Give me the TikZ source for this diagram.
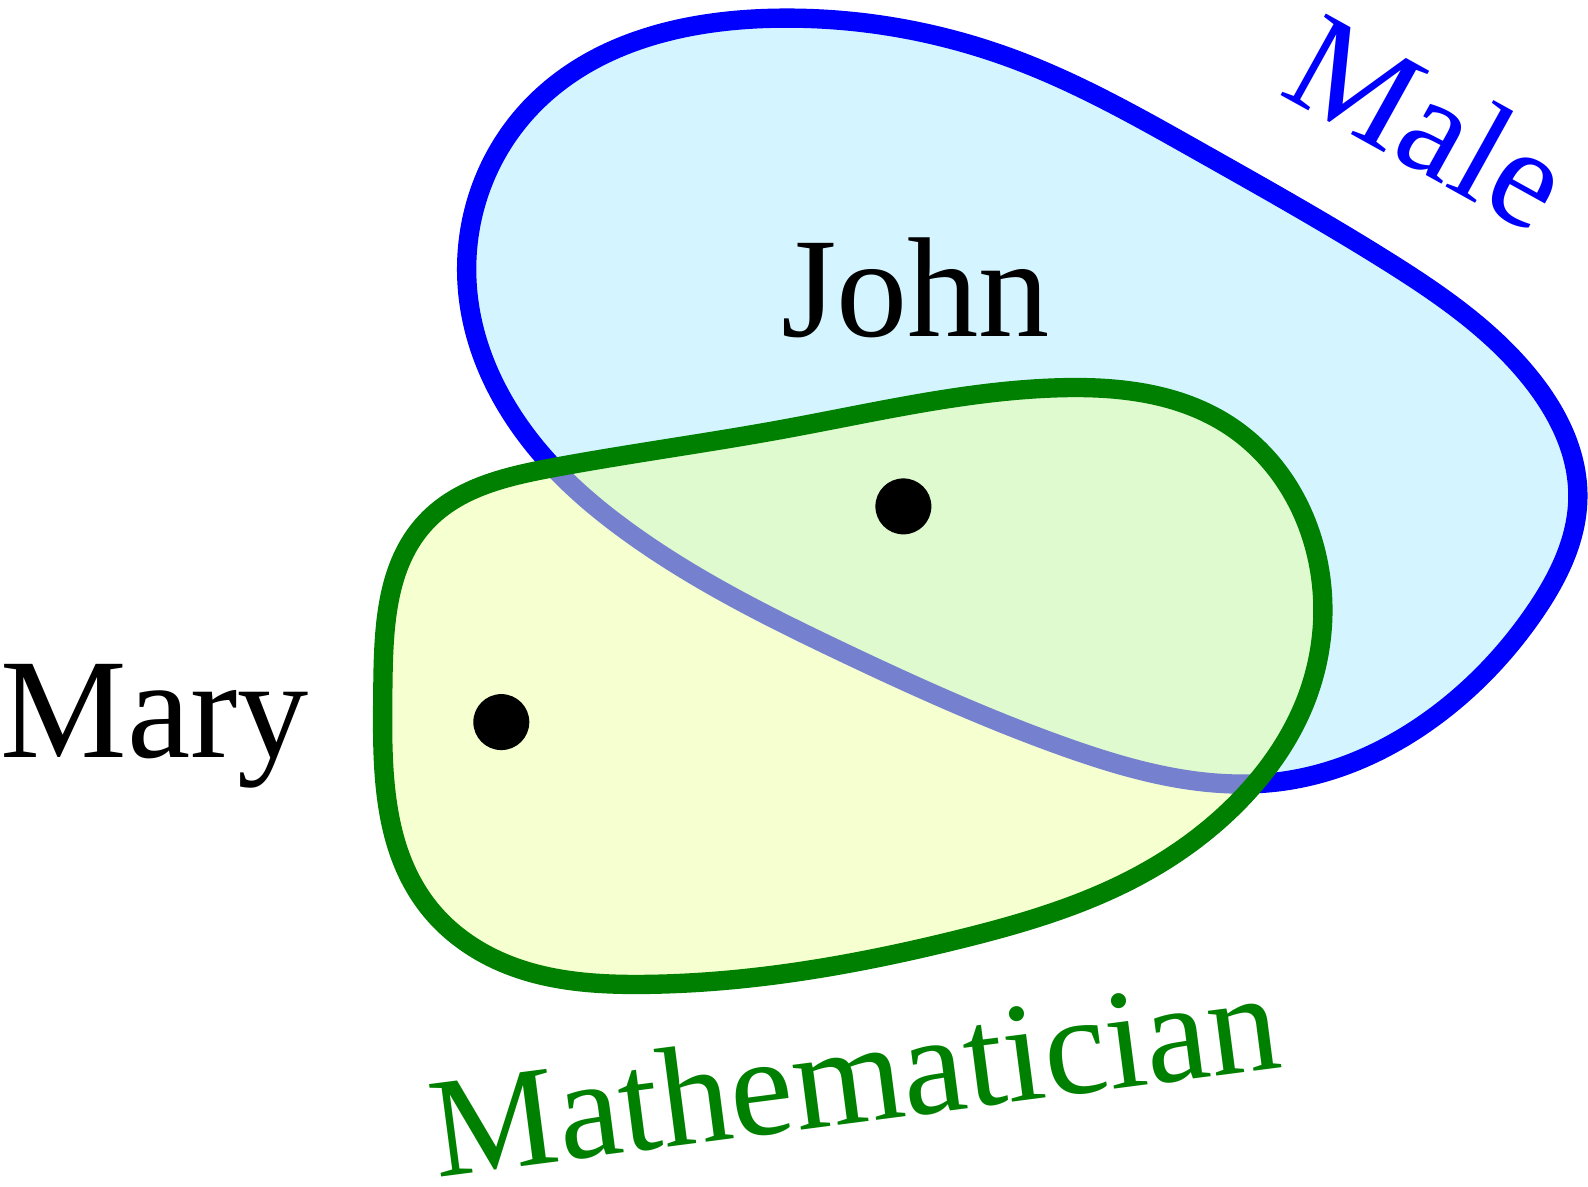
\documentclass[tikz,border=0pt]{standalone}
\usepackage{fontspec}
\setmainfont{Liberation Serif}
\usepackage{xcolor}
\usepackage{tikz}
\usetikzlibrary{hobby}
\definecolor{maleblue}{RGB}{0,0,255}
\definecolor{malefill}{RGB}{212,245,255}
\definecolor{mathgreen}{RGB}{0,128,0}
\definecolor{mathfill}{RGB}{235,255,160}

\begin{document}
\begin{tikzpicture}[
  x=0.010128cm, y=-0.010128cm,
  malearea/.style={draw=maleblue, fill=malefill, line width=5.5pt, line join=round},
  matharea/.style={draw=mathgreen, fill=mathfill, fill opacity=0.5, line width=5.5pt, line join=round},
  dotmark/.style={circle, fill=black, inner sep=0pt, minimum size=0.56cm},
  setlabel/.style={font=\fontsize{40.5}{48}\selectfont, inner sep=0pt, anchor=base}
]
\useasboundingbox (0,0) rectangle (1568,1172);

% the set of males
\draw[malearea] plot[closed hobby] coordinates {
  (765,18) (1000,58) (1185,150) (1370,258) (1510,372) (1558,490) (1515,605)
  (1420,705) (1262,772) (1050,737) (830,643) (620,525) (545,460) (462,290) (525,105)};

% the set of mathematicians
\draw[matharea] plot[closed hobby] coordinates {
  (1042,383) (1215,421) (1303,563) (1290,690) (1231,783) (1122,866) (945,928)
  (637,972) (500,952) (421,893) (378,681) (421,515) (545,462) (772,424)};

\node[dotmark] (johndot) at (892,500) {};
\node[dotmark] (marydot) at (495,713) {};

\node[setlabel] (john) at (904,332) {John};
\node[setlabel, anchor=base west] (mary) at (0,748) {Mary};
\node[setlabel, text=maleblue, rotate=-29] (male) at (1388,162) {Male};
\node[setlabel, text=mathgreen, rotate=7.4] (math) at (850,1108) {Mathematician};
\end{tikzpicture}
\end{document}
